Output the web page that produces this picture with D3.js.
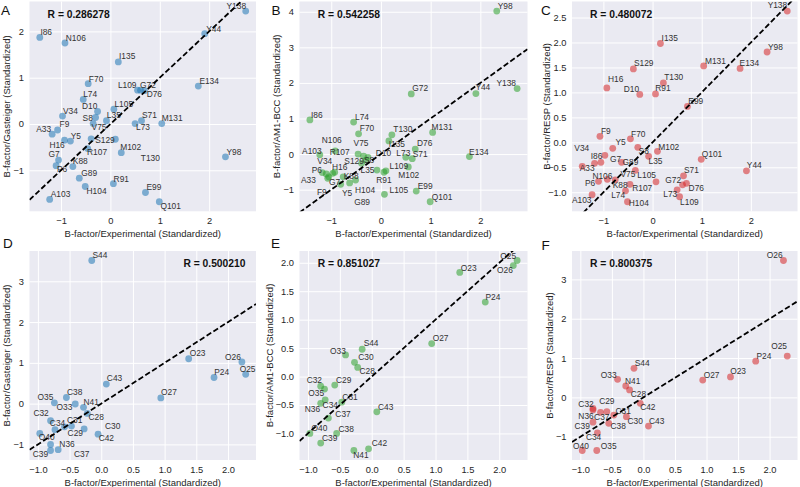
<!DOCTYPE html>
<html><head><meta charset="utf-8">
<script src="https://cdn.jsdelivr.net/npm/d3@7"></script>
<style>
body{margin:0;background:#fff}
svg{display:block}
text{font-family:"Liberation Sans",Arial,sans-serif}
</style>
</head><body>
<svg id="chart" width="800" height="487"></svg>
<script>
// ---------------- DATA ----------------
// Protein residues (panels A-C)
const residues = ["Y5","P6","G7","S8","F9","D10","H16","A33","V34","L35","Y44","F70","S71","G72","L73","L74","V75","D76","I86","K88","G89","R91","Y98","E99","Q101","M102","A103","H104","L105","N106","R107","L109","S129","T130","M131","E134","I135","Y138"];
const expResidues = [-0.81,-1.10,-1.05,-0.30,-1.07,-0.26,-0.93,-1.18,-0.97,-0.08,1.91,-0.45,0.63,0.61,0.50,-0.55,-0.35,0.69,-1.43,-0.76,-0.63,0.06,2.33,0.71,0.99,0.10,-1.23,-0.51,0.07,-0.92,-0.46,0.55,-0.39,0.22,1.04,1.78,0.16,2.74];
const gasteigerResidues = [-0.37,-0.90,-0.78,0.14,-0.13,0.27,-0.35,-0.22,0.17,0.07,1.95,0.87,0.07,0.73,0.01,0.53,0.01,0.72,1.87,-0.92,-1.17,-1.29,-0.71,-1.48,-1.68,-0.33,-1.63,-1.35,0.32,1.75,-0.53,0.73,-0.32,-0.62,0.01,0.82,1.34,2.44];
const am1bccResidues = [-0.85,-0.56,-0.64,-0.17,-0.68,-0.09,-0.51,-0.52,-0.54,-0.45,1.70,0.57,-0.13,1.69,-0.09,0.90,-0.06,0.14,0.96,-0.64,-0.81,-0.51,4.02,-1.04,-1.34,-0.47,-0.02,-0.73,-1.13,0.09,0.00,-0.36,-0.26,0.54,0.61,-0.07,0.37,1.84];
const respResidues = [-0.12,-0.78,-0.40,-0.10,0.12,0.96,1.09,-0.42,-0.26,-0.28,-0.57,0.07,-0.67,-0.85,-0.95,-0.97,-0.56,-0.82,-0.48,-0.75,-0.40,0.97,1.81,0.72,-0.34,-0.18,-1.05,-1.19,-0.79,-0.74,-0.84,-1.09,1.47,1.19,1.53,1.48,1.98,2.63];
// annotation anchors (data coordinates, text centres)
const annotGasteigerResidues = [[-0.70,-0.26],[-0.98,-0.97],[-1.14,-0.65],[-0.46,0.13],[-0.93,-0.01],[-0.42,0.39],[-1.08,-0.45],[-1.35,-0.11],[-0.81,0.29],[0.07,0.19],[2.09,2.05],[-0.29,0.98],[0.79,0.19],[0.76,0.85],[0.66,-0.07],[-0.41,0.65],[-0.23,-0.07],[0.89,0.64],[-1.30,1.98],[-0.61,-0.80],[-0.43,-1.05],[0.22,-1.19],[2.50,-0.61],[0.88,-1.37],[1.22,-1.77],[0.41,-0.50],[-1.01,-1.51],[-0.28,-1.45],[0.27,0.42],[-0.70,1.86],[-0.27,-0.60],[0.34,0.84],[-0.11,-0.35],[0.81,-0.74],[1.25,0.13],[2.00,0.93],[0.34,1.46],[2.55,2.55]];
const annotAm1bccResidues = [[-0.68,-1.09],[-1.29,-0.45],[-0.93,-0.79],[-0.24,-0.16],[-1.19,-1.07],[0.05,0.02],[-0.83,-0.37],[-1.46,-0.74],[-1.13,-0.19],[-0.27,-0.44],[2.05,1.87],[-0.28,0.73],[0.79,0.00],[0.79,1.85],[0.45,0.02],[-0.38,1.05],[-0.40,0.30],[0.88,0.30],[-1.29,1.10],[-0.60,-0.62],[-0.38,-1.34],[0.06,-0.73],[2.50,4.16],[0.89,-0.89],[1.23,-1.20],[0.56,-0.58],[-1.39,0.09],[-0.32,-1.01],[0.36,-1.02],[-0.99,0.39],[-0.83,0.06],[0.36,-0.33],[-0.54,-0.21],[0.44,0.70],[1.23,0.76],[1.97,0.07],[0.32,0.28],[2.52,1.99]];
const annotRespResidues = [[-0.65,0.00],[-1.27,-0.81],[-0.75,-0.34],[-0.18,-0.17],[-0.95,0.23],[-0.43,1.07],[-0.75,1.27],[-1.33,-0.52],[-1.44,-0.11],[0.06,-0.38],[2.07,-0.46],[-0.29,0.17],[0.79,-0.56],[0.42,-0.76],[0.36,-1.04],[-0.70,-1.05],[-0.50,-0.64],[0.89,-0.92],[-1.14,-0.28],[-0.66,-0.86],[-0.45,-0.40],[0.21,1.08],[2.50,1.91],[0.88,0.83],[1.21,-0.23],[0.33,-0.09],[-1.44,-1.15],[-0.28,-1.21],[-0.12,-0.66],[-1.02,-0.68],[-0.21,-0.91],[0.75,-1.19],[-0.18,1.58],[0.43,1.30],[1.28,1.62],[1.97,1.59],[0.35,2.09],[2.54,2.74]];

// Ligand atoms (panels D-F)
const atoms = ["O23","P24","O25","O26","O27","C28","C29","C30","C31","C32","O33","C34","O35","N36","C37","C38","C39","O40","N41","C42","C43","S44"];
const expAtoms = [1.38,1.78,2.28,2.22,0.94,-0.22,-0.58,-0.27,-0.47,-0.80,-0.41,-0.73,-0.74,-0.80,-0.68,-0.55,-0.80,-0.97,-0.28,-0.05,0.08,-0.15];
const gasteigerAtoms = [1.10,0.64,0.72,1.02,0.14,-0.24,-0.57,-0.62,-0.55,-0.42,-0.01,-0.64,0.02,-1.00,-1.13,0.15,-1.15,-0.73,-0.09,-0.75,0.48,3.51];
const am1bccAtoms = [1.83,1.31,2.04,1.95,0.58,0.16,-0.15,0.25,-0.45,-0.17,0.38,-0.41,-0.22,-0.47,-0.73,-1.00,-1.17,-1.00,-1.30,-1.27,-0.62,0.48];
const respAtoms = [0.52,0.92,1.05,3.48,0.44,0.19,-0.36,-0.49,-0.45,-0.32,0.46,-0.90,-1.35,-0.28,-0.38,-0.66,-0.63,-1.35,0.29,-0.15,-0.73,0.74];
const annotGasteigerAtoms = [[1.52,1.25],[1.90,0.78],[2.31,0.85],[2.08,1.13],[1.07,0.28],[-0.08,-0.32],[-0.41,-0.73],[0.18,-0.56],[-0.42,-0.40],[-0.95,-0.24],[-0.58,-0.09],[-0.69,-0.48],[-0.88,0.15],[-0.54,-0.99],[-0.31,-1.24],[-0.42,0.28],[-0.96,-1.24],[-0.86,-0.81],[-0.16,0.05],[0.08,-0.85],[0.21,0.62],[-0.02,3.65]];
const annotAm1bccAtoms = [[1.52,1.91],[1.90,1.40],[2.14,2.12],[2.09,1.88],[1.08,0.68],[-0.07,0.09],[-0.44,-0.06],[-0.09,0.34],[-0.34,-0.36],[-0.90,-0.07],[-0.53,0.45],[-0.65,-0.50],[-0.87,-0.29],[-0.93,-0.58],[-0.45,-0.66],[-0.40,-0.92],[-0.66,-1.08],[-0.82,-0.91],[-0.17,-1.38],[0.12,-1.17],[0.22,-0.53],[-0.01,0.59]];
const annotRespAtoms = [[1.50,0.67],[1.91,1.06],[2.15,1.30],[2.08,3.63],[1.08,0.57],[-0.08,0.08],[-0.58,-0.10],[-0.13,-0.59],[-0.32,-0.35],[-0.91,-0.17],[-0.55,0.58],[-0.79,-1.00],[-0.55,-1.23],[-0.91,-0.47],[-0.66,-0.51],[-0.40,-0.74],[-0.97,-0.74],[-0.99,-1.23],[-0.17,0.42],[0.07,-0.25],[0.21,-0.61],[-0.02,0.88]];

// Ticks and texts
const xTicksTop = [-1,0,1,2];
const xTicksBottom = [-1,-0.5,0,0.5,1,1.5,2];
const yTicksA = [-1,0,1,2];
const yTicksB = [-1,0,1,2,3,4];
const yTicksC = [-1,-0.5,0,0.5,1,1.5,2,2.5];
const yTicksD = [-1,0,1,2,3];
const yTicksE = [-1,-0.5,0,0.5,1,1.5,2];
const yTicksF = [-1,0,1,2,3];
const rValues = ["0.286278","0.542258","0.480072","0.500210","0.851027","0.800375"];
const panelLetters = ["A","B","C","D","E","F"];
const xTitle = "B-factor/Experimental (Standardized)";
const yTitles = ["B-factor/Gasteiger (Standardized)","B-factor/AM1-BCC (Standardized)","B-factor/RESP (Standardized)"];

// ---------------- LAYOUT ----------------
const cols = [{l:29.5,r:256},{l:299.5,r:527.5},{l:572,r:797.5}];
const rows = [{t:1.5,b:211.3},{t:251,b:460}];
const colors = ["#1f77b4","#2ca02c","#d62728"];
const yTitleX = [[6.5,277,547],[6.7,269.5,550]];
const letterPos = [[1,15],[271.5,15],[541,15],[3,248],[271,248],[541.5,250]];

const fmtInt = d3.format("d"), fmt1 = d3.format(".1f");
const panels = [
  {names:residues,x:expResidues,y:gasteigerResidues,ann:annotGasteigerResidues,xt:xTicksTop,yt:yTicksA,xf:fmtInt,yf:fmtInt},
  {names:residues,x:expResidues,y:am1bccResidues,ann:annotAm1bccResidues,xt:xTicksTop,yt:yTicksB,xf:fmtInt,yf:fmtInt},
  {names:residues,x:expResidues,y:respResidues,ann:annotRespResidues,xt:xTicksTop,yt:yTicksC,xf:fmtInt,yf:fmt1},
  {names:atoms,x:expAtoms,y:gasteigerAtoms,ann:annotGasteigerAtoms,xt:xTicksBottom,yt:yTicksD,xf:fmt1,yf:fmtInt,rRight:true},
  {names:atoms,x:expAtoms,y:am1bccAtoms,ann:annotAm1bccAtoms,xt:xTicksBottom,yt:yTicksE,xf:fmt1,yf:fmt1},
  {names:atoms,x:expAtoms,y:respAtoms,ann:annotRespAtoms,xt:xTicksBottom,yt:yTicksF,xf:fmt1,yf:fmtInt}
];

function padded(arr){
  const e = d3.extent(arr), m = (e[1]-e[0])*0.05;
  return [e[0]-m, e[1]+m];
}

const svg = d3.select("#chart");
const defs = svg.append("defs");

panels.forEach((p,i)=>{
  const ci = i%3, ri = Math.floor(i/3);
  const L = cols[ci].l, R = cols[ci].r, T = rows[ri].t, B = rows[ri].b;
  const xs = d3.scaleLinear().domain(padded(p.x)).range([L,R]);
  const ys = d3.scaleLinear().domain(padded(p.y)).range([B,T]);
  const g = svg.append("g");
  const cid = "clip"+i;
  defs.append("clipPath").attr("id",cid).append("rect")
    .attr("x",L).attr("y",T).attr("width",R-L).attr("height",B-T);

  g.append("rect").attr("x",L).attr("y",T).attr("width",R-L).attr("height",B-T).attr("fill","#EAEAF2");

  const gx = g.append("g").attr("transform",`translate(0,${B})`)
    .call(d3.axisBottom(xs).tickValues(p.xt).tickFormat(p.xf).tickSize(-(B-T)).tickPadding(6));
  const gy = g.append("g").attr("transform",`translate(${L},0)`)
    .call(d3.axisLeft(ys).tickValues(p.yt).tickFormat(p.yf).tickSize(-(R-L)).tickPadding(5.5));
  [gx,gy].forEach(a=>{
    a.select(".domain").remove();
    a.selectAll(".tick line").attr("stroke","#fff").attr("stroke-width",1);
    a.selectAll(".tick text").attr("fill","#262626").style("font-size","9.3px")
      .style("font-family",'"Liberation Sans",Arial,sans-serif');
  });
  gx.selectAll(".tick text").attr("dy","0.71em");

  const idx = d3.range(p.names.length);
  g.append("g").selectAll("circle").data(idx).join("circle")
    .attr("cx",k=>xs(p.x[k])).attr("cy",k=>ys(p.y[k])).attr("r",3.4)
    .attr("fill",colors[ci]).attr("fill-opacity",0.55);

  g.append("g").selectAll("text").data(idx).join("text")
    .attr("x",k=>xs(p.ann[k][0])).attr("y",k=>ys(p.ann[k][1]))
    .attr("text-anchor","middle").attr("dy","0.35em")
    .attr("fill","#333").style("font-size","8.4px").text(k=>p.names[k]);

  const xd = xs.domain();
  g.append("line").attr("clip-path",`url(#${cid})`)
    .attr("x1",xs(xd[0])).attr("y1",ys(xd[0])).attr("x2",xs(xd[1])).attr("y2",ys(xd[1]))
    .attr("stroke","#000").attr("stroke-width",1.8).attr("stroke-dasharray","5.5,2.6");

  const rt = g.append("text").attr("y",T+16.3).style("font-size","10.3px").style("font-weight","bold")
    .attr("fill","#111").text("R = "+rValues[i]);
  if(p.rRight){ rt.attr("x",R-10.5).attr("text-anchor","end"); }
  else { rt.attr("x",L+0.08*(R-L)); }

  g.append("text").attr("x",(L+R)/2).attr("y",B+25.6).attr("text-anchor","middle")
    .attr("fill","#262626").style("font-size","9.5px").text(xTitle);
  const ytx = yTitleX[ri][ci], yty = (T+B)/2;
  g.append("text").attr("transform",`translate(${ytx},${yty}) rotate(-90)`)
    .attr("text-anchor","middle").attr("dy","0.35em")
    .attr("fill","#262626").style("font-size","9.5px").text(yTitles[ci]);

  g.append("text").attr("x",letterPos[i][0]).attr("y",letterPos[i][1])
    .attr("fill","#111").style("font-size","13.5px").text(panelLetters[i]);
});
</script>
</body></html>
